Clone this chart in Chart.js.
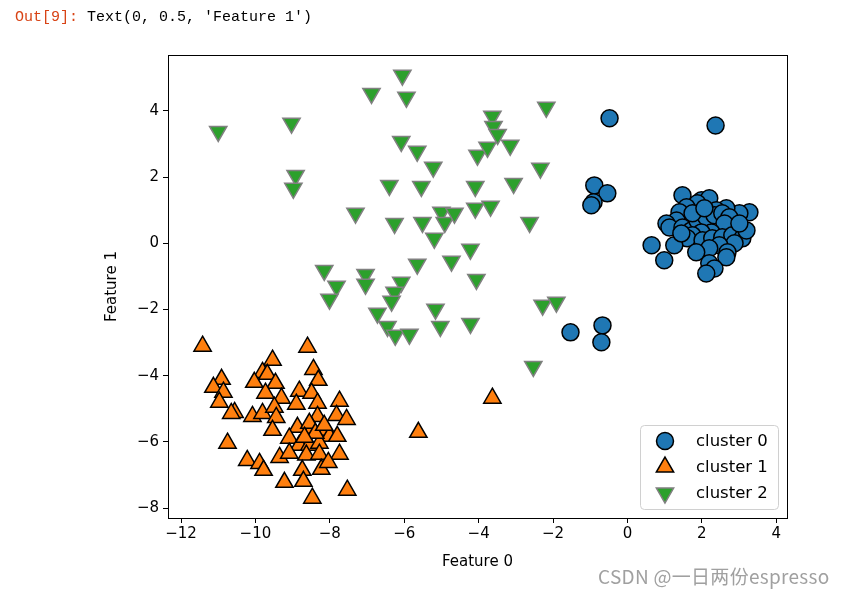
<!DOCTYPE html>
<html>
<head>
<meta charset="utf-8">
<script src="https://cdn.jsdelivr.net/npm/chart.js@4.4.1/dist/chart.umd.min.js"></script>
<style>
  html, body { margin: 0; padding: 0; background: #fff; }
  #wrap { position: relative; width: 846px; height: 595px; }
  #out { position: absolute; left: 15px; top: 9px; font: 15px "Liberation Mono", monospace; white-space: pre; }
  #out .p { color: #d84315; }
  #mark { position: absolute; left: 598px; top: 562px; font: 19px "Noto Sans CJK SC", sans-serif; color: #a0a0a0; letter-spacing: 0.3px; }
  canvas { position: absolute; left: 0; top: 0; }
</style>
</head>
<body>
<div id="wrap">
  <canvas id="c" width="846" height="595"></canvas>
  <div id="out"><span class="p">Out[9]:</span> Text(0, 0.5, 'Feature 1')</div>
  <div id="mark">CSDN @一日两份espresso</div>
</div>
<script>
// cluster 0 (blue circles)
const c0x = [-0.48, 2.37, -0.89, -0.54, -0.91, -0.97, -1.53, -0.67, -0.70, 0.65, 0.99,
  1.48, 1.99, 2.20, 3.28, 3.01, 2.66, 2.39, 1.88, 1.59, 1.40, 1.32, 1.05, 1.13, 1.48, 1.72,
  1.88, 2.12, 2.34, 2.55, 2.74, 2.61, 2.26, 1.99, 1.75, 1.61, 2.02, 2.28, 2.55, 2.82, 3.09,
  2.88, 2.47, 2.20, 1.85, 1.26, 1.45, 2.69, 2.66, 2.20, 2.34, 2.12, 3.20, 3.01, 1.75, 2.07];
const c0y = [3.78, 3.56, 1.75, 1.51, 1.24, 1.15, -2.69, -2.48, -2.99, -0.06, -0.51,
  1.45, 1.30, 1.36, 0.94, 0.91, 1.06, 1.00, 1.21, 1.09, 0.94, 0.69, 0.60, 0.48, 0.48, 0.39,
  0.69, 0.79, 0.85, 0.91, 0.79, 0.60, 0.33, 0.33, 0.24, 0.15, 0.09, 0.15, 0.18, 0.24, 0.15,
  0.00, -0.06, -0.15, -0.27, -0.06, 0.30, -0.27, -0.42, -0.60, -0.76, -0.91, 0.39, 0.60, 0.91, 1.06];

// cluster 1 (orange triangles)
const c1x = [-11.42, -8.60, -9.54, -9.81, -9.68, -8.44, -8.31, -10.91, -11.13, -10.86, -10.03,
  -9.46, -9.73, -8.82, -8.49, -9.30, -10.97, -10.56, -10.65, -10.08, -9.81, -9.49, -9.44,
  -8.90, -8.33, -7.74, -7.82, -7.55, -8.33, -9.54, -8.87, -8.47, -8.09, -8.01, -7.80, -10.75,
  -9.09, -8.82, -8.55, -8.28, -9.35, -9.09, -8.63, -8.28, -7.74, -10.22, -9.89, -9.78, -8.74,
  -8.23, -8.04, -9.22, -8.71, -7.53, -8.47, -5.62, -3.63, -8.55, -8.39, -8.68, -8.15];
const c1y = [-3.11, -3.14, -3.53, -3.90, -3.96, -3.81, -4.14, -4.11, -4.35, -4.50, -4.20,
  -4.23, -4.53, -4.47, -4.53, -4.68, -4.80, -5.11, -5.14, -5.23, -5.14, -4.95, -5.26,
  -4.86, -4.83, -4.77, -5.20, -5.32, -5.23, -5.65, -5.56, -5.59, -5.65, -5.83, -5.83, -6.04,
  -5.89, -6.10, -6.10, -6.04, -6.47, -6.34, -6.40, -6.37, -6.37, -6.56, -6.65, -6.86, -6.86,
  -6.83, -6.62, -7.22, -7.19, -7.46, -7.70, -5.71, -4.68, -5.44, -5.74, -5.86, -5.50];

// cluster 2 (green down-triangles)
const c2x = [-11.0, -9.03, -8.92, -8.98, -6.05, -6.88, -5.94, -6.08, -5.65, -5.22, -6.40,
  -5.54, -7.31, -6.26, -5.51, -5.0, -4.91, -4.65, -5.19, -4.03, -3.63, -3.60, -3.49, -3.76,
  -3.15, -4.09, -3.06, -2.18, -2.34, -4.09, -3.68, -2.63, -4.22, -5.65, -4.73, -4.06, -8.15,
  -7.82, -8.01, -7.04, -7.04, -6.08, -6.26, -6.34, -6.72, -6.45, -6.24, -5.86, -5.16, -5.03,
  -4.22, -2.28, -1.91, -2.53];
const c2y = [3.38, 3.63, 2.05, 1.66, 5.08, 4.53, 4.41, 3.08, 2.78, 2.30, 1.75,
  1.72, 0.91, 0.60, 0.63, 0.94, 0.63, 0.91, 0.15, 2.66, 3.84, 3.53, 3.29, 2.90,
  2.96, 1.72, 1.81, 4.11, 2.27, 1.06, 1.12, 0.63, -0.18, -0.63, -0.54, -1.09, -0.82,
  -1.30, -1.69, -0.94, -1.24, -1.18, -1.48, -1.75, -2.11, -2.51, -2.78, -2.75, -1.99, -2.51,
  -2.42, -1.87, -1.78, -3.72];

const xTicks = [-12, -10, -8, -6, -4, -2, 0, 2, 4];
const yTicks = [-8, -6, -4, -2, 0, 2, 4];

const pts = (xs, ys) => xs.map((x, i) => ({ x: x, y: ys[i] }));
const minus = v => String(v).replace('-', '\u2212');
const FONT = '"DejaVu Sans", sans-serif';

const series = [
  { label: 'cluster 0', data: pts(c0x, c0y), bg: '#1f77b4', edge: '#000', style: 'circle', r: 8.5, rot: 0 },
  { label: 'cluster 1', data: pts(c1x, c1y), bg: '#ff7f0e', edge: '#000', style: 'triangle', r: 10, rot: 0 },
  { label: 'cluster 2', data: pts(c2x, c2y), bg: '#2ca02c', edge: '#808080', style: 'triangle', r: 10, rot: 180 }
];

// frame box + matplotlib-like legend in lower right
const frame = {
  id: 'frame',
  afterDraw(chart) {
    const ctx = chart.ctx, a = chart.chartArea;
    ctx.save();
    ctx.strokeStyle = '#000';
    ctx.lineWidth = 1;
    ctx.strokeRect(Math.round(a.left) + 0.5, Math.round(a.top) + 0.5, Math.round(a.right - a.left), Math.round(a.bottom - a.top));

    const w = 138, h = 84;
    const lx = a.right - 9 - w, ly = a.bottom - 9 - h;
    ctx.beginPath();
    ctx.roundRect(lx + 0.5, ly + 0.5, w, h, 4);
    ctx.fillStyle = 'rgba(255,255,255,0.85)';
    ctx.fill();
    ctx.strokeStyle = '#d0d0d0';
    ctx.stroke();
    ctx.font = '16.5px ' + FONT;
    ctx.textBaseline = 'middle';
    series.forEach((s, i) => {
      const cy = ly + 16 + i * 26;
      ctx.fillStyle = s.bg;
      ctx.strokeStyle = s.edge;
      ctx.lineWidth = 1.5;
      Chart.helpers.drawPoint(ctx, { pointStyle: s.style, radius: s.r, rotation: s.rot, borderWidth: 1.5 }, lx + 25, cy);
      ctx.fillStyle = '#000';
      ctx.fillText(s.label, lx + 56, cy + 1);
    });
    ctx.restore();
  }
};

new Chart(document.getElementById('c'), {
  type: 'scatter',
  data: {
    datasets: series.map(s => ({
      label: s.label,
      data: s.data,
      backgroundColor: s.bg,
      borderColor: s.edge,
      borderWidth: 1.5,
      pointStyle: s.style,
      pointRadius: s.r,
      rotation: s.rot
    })).reverse()
  },
  options: {
    responsive: false,
    animation: false,
    layout: { padding: { left: 99, top: 55, right: 59, bottom: 20 } },
    plugins: { legend: { display: false }, tooltip: { enabled: false } },
    scales: {
      x: {
        type: 'linear', min: -12.35, max: 4.29,
        afterFit: s => { s.height = 57; },
        afterBuildTicks: s => { s.ticks = xTicks.map(v => ({ value: v })); },
        ticks: { callback: minus, color: '#000', font: { family: FONT, size: 15 }, padding: 2, maxRotation: 0 },
        grid: { display: true, drawOnChartArea: false, drawTicks: true, tickLength: 5, color: '#000' },
        border: { display: true, color: '#000' },
        title: { display: true, text: 'Feature 0', color: '#000', font: { family: FONT, size: 15 }, padding: { top: 4, bottom: 4 } }
      },
      y: {
        type: 'linear', min: -8.30, max: 5.69,
        afterFit: s => { s.width = 69; },
        afterBuildTicks: s => { s.ticks = yTicks.map(v => ({ value: v })); },
        ticks: { callback: minus, color: '#000', font: { family: FONT, size: 15 }, padding: 4 },
        grid: { display: true, drawOnChartArea: false, drawTicks: true, tickLength: 5, color: '#000' },
        border: { display: true, color: '#000' },
        title: { display: true, text: 'Feature 1', color: '#000', font: { family: FONT, size: 15 }, padding: { top: 4, bottom: 4 } }
      }
    }
  },
  plugins: [frame]
});
</script>
</body>
</html>
